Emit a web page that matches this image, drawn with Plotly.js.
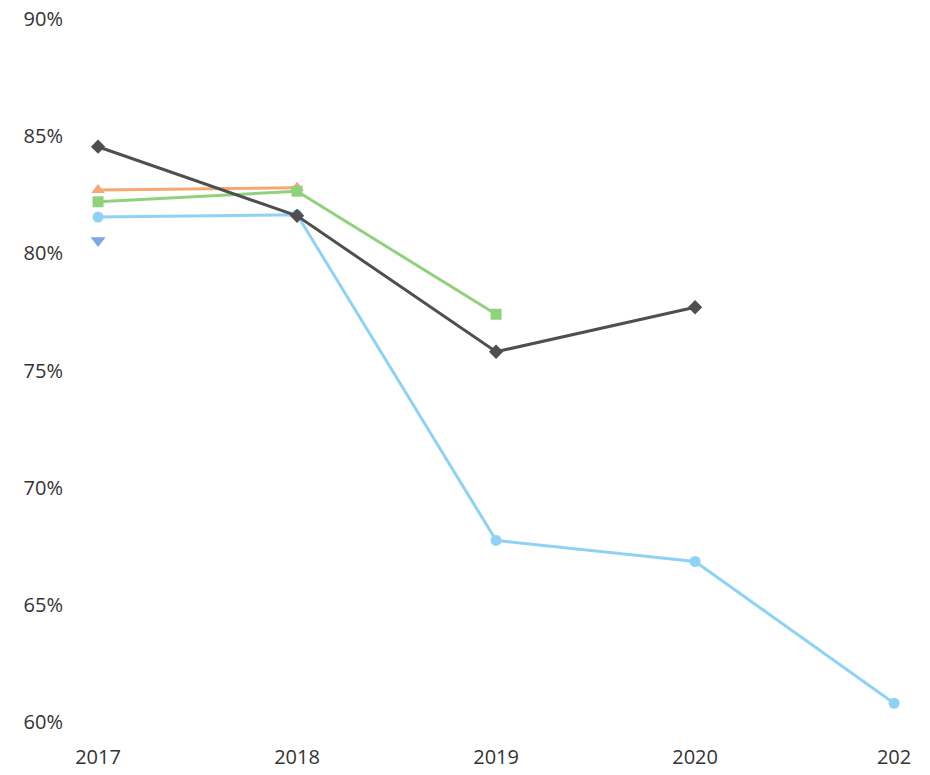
<!DOCTYPE html>
<html>
<head>
<meta charset="utf-8">
<script src="https://cdn.plot.ly/plotly-3.0.1.min.js"></script>
<style>html,body{margin:0;padding:0;background:#fff;overflow:hidden}</style>
</head>
<body>
<div id="chart" style="width:930px;height:775px"></div>
<script>
const years = [2017, 2018, 2019, 2020, 2021];
const tickLabels = ["2017", "2018", "2019", "2020", "202"];
const yTicks = [0.60, 0.65, 0.70, 0.75, 0.80, 0.85, 0.90];

const grayYears = [2017, 2018, 2019, 2020];
const grayValues = [0.8455, 0.816, 0.758, 0.777];

const orangeYears = [2017, 2018];
const orangeValues = [0.827, 0.828];

const greenYears = [2017, 2018, 2019];
const greenValues = [0.822, 0.8265, 0.774];

const lightBlueYears = [2017, 2018, 2019, 2020, 2021];
const lightBlueValues = [0.8155, 0.8165, 0.6775, 0.6685, 0.608];

const blueYears = [2017];
const blueValues = [0.8055];

function series(x, y, color, symbol, size) {
  return {
    x: x, y: y, type: 'scatter', mode: 'lines+markers',
    line: {color: color, width: 3},
    marker: {color: color, symbol: symbol, size: size},
    hoverinfo: 'x+y'
  };
}

const data = [
  series(blueYears, blueValues, '#7fa6e2', 'triangle-down', 13),
  series(lightBlueYears, lightBlueValues, '#8fd2f6', 'circle', 11),
  series(orangeYears, orangeValues, '#f5a872', 'triangle-up', 12),
  series(greenYears, greenValues, '#90d27c', 'square', 11),
  series(grayYears, grayValues, '#4f4f4f', 'diamond', 11)
];

const layout = {
  width: 930, height: 775,
  margin: {l: 70, r: 20, t: 10, b: 45},
  paper_bgcolor: '#ffffff', plot_bgcolor: '#ffffff',
  showlegend: false,
  font: {family: 'Open Sans, sans-serif', color: '#333333', size: 20},
  xaxis: {
    range: [2016.859, 2021.08],
    tickvals: years, ticktext: tickLabels,
    showgrid: false, zeroline: false, showline: false, ticks: '',
    ticklabelstandoff: 13,
    tickfont: {size: 20, color: '#333333'}
  },
  yaxis: {
    range: [0.59659, 0.90384],
    tickvals: yTicks, tickformat: '.0%',
    showgrid: false, zeroline: false, showline: false, ticks: '',
    ticklabelstandoff: 6,
    tickfont: {size: 20, color: '#333333'}
  }
};

Plotly.newPlot('chart', data, layout, {displayModeBar: false, staticPlot: true});
</script>
</body>
</html>
